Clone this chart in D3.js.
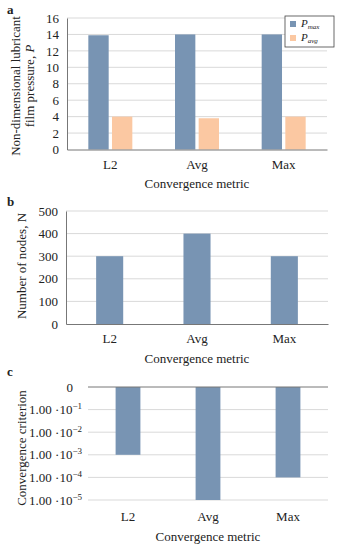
<!DOCTYPE html>
<html>
<head>
<meta charset="utf-8">
<script src="https://cdn.jsdelivr.net/npm/d3@7"></script>
<style>
  body { margin: 0; background: white; }
  text { font-family: "Liberation Serif", "Times New Roman", serif; fill: #222; }
</style>
</head>
<body>
<div id="chart"></div>
<script>
// data
const metrics = ["L2", "Avg", "Max"]
const pMax = [13.9, 14.0, 14.0]
const pAvg = [4.0, 3.8, 4.0]
const nodes = [300, 400, 300]
const criterion = [1e-3, 1e-5, 1e-4]
const critTicks = [1, 1e-1, 1e-2, 1e-3, 1e-4, 1e-5]

const blue = "#7894b3"
const peach = "#fbc8a2"
const grid = "#d9d9d9"
const axisCol = "#777"

const svg = d3.select("#chart").append("svg")
    .attr("width", 340)
    .attr("height", 550)

// ---------- panel a ----------
const a = { left: 67, right: 327, top: 18, bottom: 149.5 }
const xa = d3.scaleBand().domain(metrics).range([a.left, a.right])
const xaInner = d3.scaleBand().domain(["max", "avg"]).range([0, 44]).paddingInner(0.14)
const ya = d3.scaleLinear().domain([0, 16]).range([a.bottom, a.top])

const ga = svg.append("g")
ga.selectAll(".grid-a")
    .data(ya.ticks(8).filter(d => d > 0))
    .join("line")
    .attr("x1", a.left).attr("x2", a.right)
    .attr("y1", d => ya(d)).attr("y2", d => ya(d))
    .attr("stroke", grid)

ga.selectAll(".pmax")
    .data(metrics)
    .join("rect")
    .attr("x", d => xa(d) + xa.bandwidth() / 2 - 22 + xaInner("max"))
    .attr("y", (d, i) => ya(pMax[i]))
    .attr("width", xaInner.bandwidth())
    .attr("height", (d, i) => ya(0) - ya(pMax[i]))
    .attr("fill", blue)

ga.selectAll(".pavg")
    .data(metrics)
    .join("rect")
    .attr("x", d => xa(d) + xa.bandwidth() / 2 - 22 + xaInner("avg"))
    .attr("y", (d, i) => ya(pAvg[i]))
    .attr("width", xaInner.bandwidth())
    .attr("height", (d, i) => ya(0) - ya(pAvg[i]))
    .attr("fill", peach)

const ayAxis = ga.append("g")
    .attr("transform", `translate(${a.left},0)`)
    .call(d3.axisLeft(ya).ticks(8).tickSize(0).tickPadding(8))
ayAxis.select(".domain").attr("stroke", axisCol)
ayAxis.selectAll("text").style("font-size", "13px")

const axAxis = ga.append("g")
    .attr("transform", `translate(0,${a.bottom})`)
    .call(d3.axisBottom(xa).tickSize(0).tickPadding(10))
axAxis.select(".domain").attr("stroke", axisCol)
axAxis.selectAll("text").style("font-size", "13px")

ga.append("text").attr("x", 197).attr("y", 188).attr("text-anchor", "middle")
    .style("font-size", "13px").text("Convergence metric")
ga.append("text").attr("x", 7).attr("y", 14).style("font-size", "13px")
    .style("font-weight", "bold").text("a")

const aTitle = ga.append("text")
    .attr("transform", "translate(0,86) rotate(-90)")
    .attr("text-anchor", "middle")
    .style("font-size", "13px")
aTitle.append("tspan").attr("x", 0).attr("y", 20).text("Non-dimensional lubricant")
const aT2 = aTitle.append("tspan").attr("x", 0).attr("y", 34)
aT2.append("tspan").text("film pressure, ")
aT2.append("tspan").style("font-style", "italic").text("P")

// legend
const leg = ga.append("g")
leg.append("rect").attr("x", 285).attr("y", 16).attr("width", 49).attr("height", 31)
    .attr("fill", "white").attr("stroke", "#444").attr("stroke-width", 0.8)
const legItems = [["max", blue], ["avg", peach]]
legItems.forEach((it, i) => {
    leg.append("rect").attr("x", 290).attr("y", 21 + i * 14).attr("width", 6).attr("height", 6)
        .attr("fill", it[1])
    const t = leg.append("text").attr("x", 301).attr("y", 27 + i * 14)
        .style("font-size", "11px").style("font-style", "italic")
    t.append("tspan").text("P")
    t.append("tspan").attr("dy", 2).style("font-size", "7px").text(it[0])
})

// ---------- panel b ----------
const b = { left: 66, right: 328, top: 211, bottom: 324 }
const xb = d3.scaleBand().domain(metrics).range([b.left, b.right]).paddingInner(0.69).paddingOuter(0.345)
const yb = d3.scaleLinear().domain([0, 500]).range([b.bottom, b.top])

const gb = svg.append("g")
gb.selectAll(".grid-b")
    .data(yb.ticks(5).filter(d => d > 0))
    .join("line")
    .attr("x1", b.left).attr("x2", b.right)
    .attr("y1", d => yb(d)).attr("y2", d => yb(d))
    .attr("stroke", grid)

gb.selectAll(".nodes")
    .data(metrics)
    .join("rect")
    .attr("x", d => xb(d))
    .attr("y", (d, i) => yb(nodes[i]))
    .attr("width", xb.bandwidth())
    .attr("height", (d, i) => yb(0) - yb(nodes[i]))
    .attr("fill", blue)

const byAxis = gb.append("g")
    .attr("transform", `translate(${b.left},0)`)
    .call(d3.axisLeft(yb).ticks(5).tickSize(0).tickPadding(8))
byAxis.select(".domain").attr("stroke", axisCol)
byAxis.selectAll("text").style("font-size", "13px")

const bxAxis = gb.append("g")
    .attr("transform", `translate(0,${b.bottom})`)
    .call(d3.axisBottom(xb).tickSize(0).tickPadding(10))
bxAxis.select(".domain").attr("stroke", axisCol)
bxAxis.selectAll("text").style("font-size", "13px")

gb.append("text").attr("x", 197).attr("y", 363).attr("text-anchor", "middle")
    .style("font-size", "13px").text("Convergence metric")
gb.append("text").attr("x", 7).attr("y", 206).style("font-size", "13px")
    .style("font-weight", "bold").text("b")
gb.append("text")
    .attr("transform", "translate(26,266) rotate(-90)")
    .attr("text-anchor", "middle")
    .style("font-size", "13px")
    .text("Number of nodes, N")

// ---------- panel c ----------
const c = { left: 88, right: 328, top: 387, bottom: 500 }
const xc = d3.scaleBand().domain(metrics).range([c.left, c.right]).paddingInner(0.69).paddingOuter(0.345)
const yc = d3.scaleLog().domain([1, 1e-5]).range([c.top, c.bottom])

const gc = svg.append("g")
gc.selectAll(".grid-c")
    .data(critTicks.slice(1))
    .join("line")
    .attr("x1", c.left).attr("x2", c.right)
    .attr("y1", d => yc(d)).attr("y2", d => yc(d))
    .attr("stroke", grid)

gc.selectAll(".crit")
    .data(metrics)
    .join("rect")
    .attr("x", d => xc(d))
    .attr("y", c.top)
    .attr("width", xc.bandwidth())
    .attr("height", (d, i) => yc(criterion[i]) - c.top)
    .attr("fill", blue)

gc.append("line").attr("x1", c.left).attr("x2", c.right)
    .attr("y1", c.top).attr("y2", c.top).attr("stroke", axisCol)

const cyLabels = gc.selectAll(".cyl")
    .data(critTicks)
    .join("text")
    .attr("x", 82)
    .attr("y", d => yc(d) + 4.5)
    .attr("text-anchor", "end")
    .style("font-size", "13px")
cyLabels.each(function(d) {
    const t = d3.select(this)
    if (d === 1) { t.attr("x", 73).text("0"); return }
    t.append("tspan").text("1.00 ·10")
    t.append("tspan").attr("dy", -5).style("font-size", "9px").text("−" + Math.round(-Math.log10(d)))
})

const cxAxis = gc.append("g")
    .attr("transform", `translate(0,${c.bottom})`)
    .call(d3.axisBottom(xc).tickSize(0).tickPadding(12))
cxAxis.select(".domain").remove()
cxAxis.selectAll("text").style("font-size", "13px")

gc.append("text").attr("x", 208).attr("y", 541).attr("text-anchor", "middle")
    .style("font-size", "13px").text("Convergence metric")
gc.append("text").attr("x", 7).attr("y", 376).style("font-size", "13px")
    .style("font-weight", "bold").text("c")
gc.append("text")
    .attr("transform", "translate(26,448) rotate(-90)")
    .attr("text-anchor", "middle")
    .style("font-size", "13px")
    .text("Convergence criterion")
</script>
</body>
</html>
